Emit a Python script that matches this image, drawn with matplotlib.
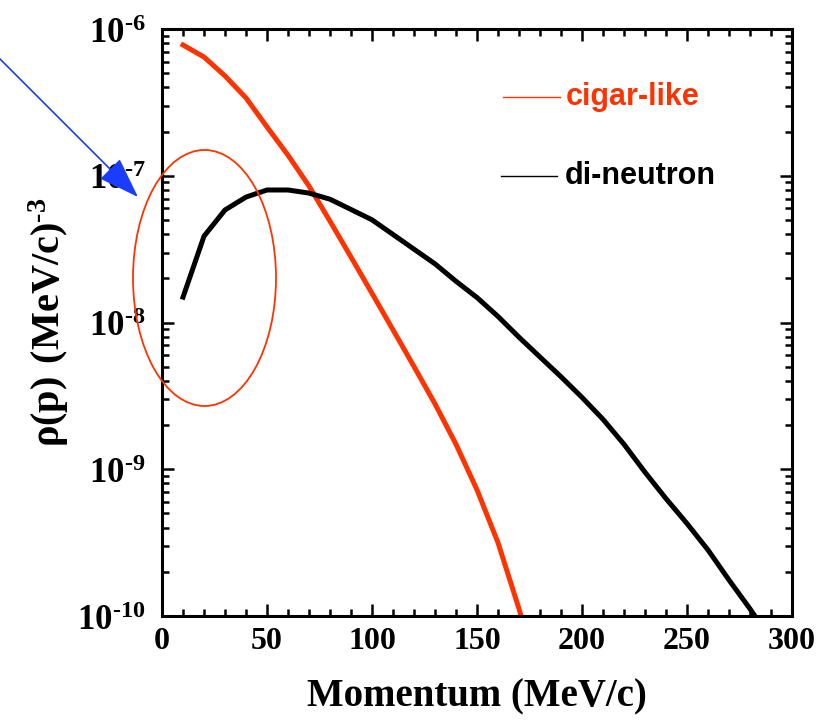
import matplotlib
matplotlib.use("Agg")
import matplotlib.pyplot as plt
from matplotlib.patches import Ellipse
from matplotlib.ticker import FixedLocator, LogLocator, MultipleLocator, FuncFormatter, NullFormatter
import numpy as np

RED = "#FF3300"; INK = "#000000"; BLUE = "#1A3CFF"

# momentum distributions (MeV/c vs (MeV/c)^-3)
p_cigar = [10, 20, 30, 40, 50, 60, 70, 80, 90, 100, 110, 120, 130, 140, 150, 160, 170, 180]
rho_cigar = [7.78e-7, 6.44e-7, 4.79e-7, 3.39e-7, 2.15e-7, 1.38e-7, 8.51e-8, 4.90e-8, 2.79e-8,
             1.58e-8, 8.91e-9, 5.01e-9, 2.79e-9, 1.48e-9, 7.24e-10, 3.16e-10, 1.12e-10, 3.55e-11]

p_dineutron = [10, 20, 30, 40, 50, 60, 70, 80, 90, 100, 110, 120, 130, 140, 150, 160, 170, 180,
               190, 200, 210, 220, 230, 240, 250, 260, 270, 280, 290]
rho_dineutron = [1.49e-8, 3.88e-8, 5.85e-8, 7.16e-8, 8.00e-8, 8.00e-8, 7.62e-8, 6.92e-8, 5.89e-8,
                 5.01e-8, 3.98e-8, 3.16e-8, 2.51e-8, 1.91e-8, 1.48e-8, 1.10e-8, 7.94e-9, 5.82e-9,
                 4.27e-9, 3.09e-9, 2.19e-9, 1.48e-9, 9.55e-10, 6.31e-10, 4.27e-10, 2.82e-10,
                 1.76e-10, 1.12e-10, 6.9e-11]

x_ticks = [0, 50, 100, 150, 200, 250, 300]
y_ticks = [1e-10, 1e-9, 1e-8, 1e-7, 1e-6]

plt.rcParams["mathtext.fontset"] = "custom"
plt.rcParams["mathtext.bf"] = "Liberation Serif:bold"
plt.rcParams["mathtext.rm"] = "Liberation Serif:bold"

fig = plt.figure(figsize=(8.28, 7.2), dpi=100)
ax = fig.add_axes([0.1957, 0.1444, 0.7608, 0.8153])

ax.plot(p_cigar, rho_cigar, color=RED, lw=3.6, solid_joinstyle="round")
ax.plot(p_dineutron, rho_dineutron, color=INK, lw=3.6, solid_joinstyle="round")

ax.set_yscale("log")
ax.set_xlim(0, 300)
ax.set_ylim(1e-10, 1e-6)

ax.xaxis.set_major_locator(FixedLocator(x_ticks))
ax.xaxis.set_minor_locator(MultipleLocator(10))
ax.yaxis.set_major_locator(FixedLocator(y_ticks))
ax.yaxis.set_minor_locator(LogLocator(base=10, subs=np.arange(2, 10)))
ax.yaxis.set_minor_formatter(NullFormatter())
# plain hyphen in the exponent, not a minus sign
ax.yaxis.set_major_formatter(FuncFormatter(
    lambda v, pos: r"$\mathbf{10^{\text{-}%d}}$" % abs(round(np.log10(v)))))

ax.tick_params(which="both", direction="in", top=True, right=True, width=1.8, color=INK)
ax.tick_params(which="major", length=8.5)
ax.tick_params(which="minor", length=5)
ax.tick_params(axis="x", pad=8)
ax.tick_params(axis="y", pad=12)
for lab in ax.get_xticklabels():
    lab.set_fontfamily("Liberation Serif"); lab.set_fontweight("bold"); lab.set_fontsize(23)
for lab in ax.get_yticklabels():
    lab.set_fontsize(25)
for s in ax.spines.values():
    s.set_linewidth(2.2)

ax.set_xlabel("Momentum (MeV/c)", fontfamily="Liberation Serif", fontweight="bold", fontsize=28, labelpad=16)
ax.set_ylabel(r"$\mathbf{\rho(p)\ (MeV/c)^{\text{-}3}}$", fontsize=29, labelpad=4)

# key
ax.plot([0.541, 0.632], [0.884, 0.884], transform=ax.transAxes, color=RED, lw=1.0)
ax.text(0.641, 0.884, "cigar-like", transform=ax.transAxes, color=RED, fontsize=22,
        fontfamily="Liberation Sans", fontweight="bold", va="center")
ax.plot([0.538, 0.627], [0.7496, 0.7496], transform=ax.transAxes, color=INK, lw=1.0)
ax.text(0.639, 0.7496, "di-neutron", transform=ax.transAxes, color=INK, fontsize=22,
        fontfamily="Liberation Sans", fontweight="bold", va="center")

# highlight of the low-momentum region
fig.add_artist(Ellipse((204.5 / 828, 1 - 278 / 720), 143 / 828, 256 / 720,
                       transform=fig.transFigure, fill=False, ec=RED, lw=1.3))
ax.annotate("", xy=(138, 523), xycoords="figure pixels", xytext=(-4, 665), textcoords="figure pixels",
            arrowprops=dict(arrowstyle="-|>,head_length=1.3,head_width=0.45", color=BLUE, lw=1.2,
                            mutation_scale=20, shrinkA=0, shrinkB=0), annotation_clip=False)

fig.savefig("out.png", dpi=100)
